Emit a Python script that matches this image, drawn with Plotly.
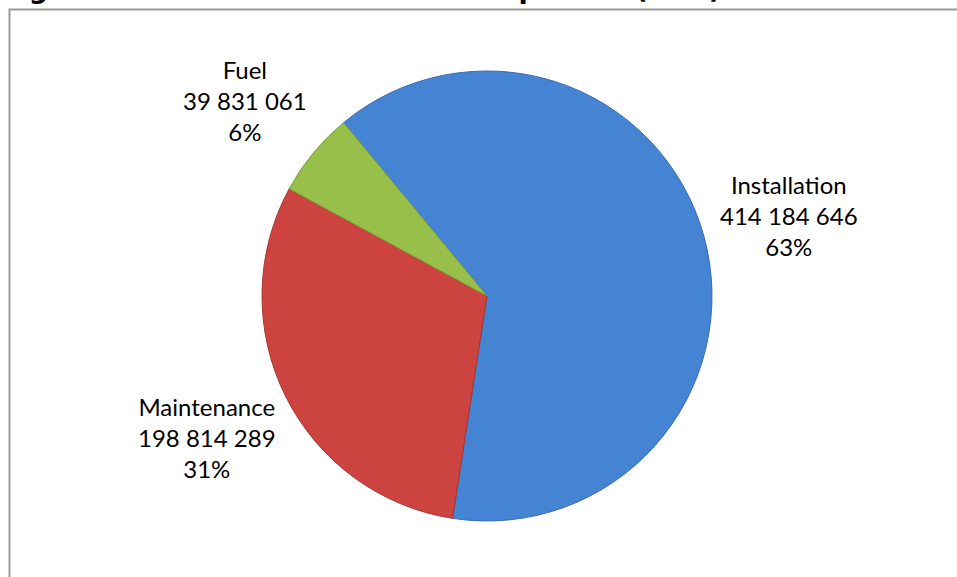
import math
import plotly.graph_objects as go

categories = ["Installation", "Maintenance", "Fuel"]
values = [414184646, 198814289, 39831061]
pct_labels = [63, 31, 6]
colors = ["#4584D3", "#CC4340", "#97BF4A"]
line_colors = ["#3A6DB0", "#A63633", "#7A9C3A"]

W, H = 957, 577
cx, cy, r = 487, 296, 225
rotation = -39.6
label_radius = 1.39 * r

fig = go.Figure(go.Pie(
    labels=categories,
    values=values,
    textinfo="none",
    marker=dict(colors=colors, line=dict(color=line_colors, width=1)),
    sort=False,
    direction="clockwise",
    rotation=rotation,
    hole=0,
    domain=dict(x=[(cx - r) / W, (cx + r) / W], y=[(H - cy - r) / H, (H - cy + r) / H]),
    showlegend=False,
))

# data labels placed along each slice's mid-angle (derived from the values)
total = sum(values)
annotations = []
cum = 0.0
for cat, val, pct in zip(categories, values, pct_labels):
    mid = math.radians(rotation + 360.0 * (cum + val / 2) / total)
    cum += val
    px = cx + label_radius * math.sin(mid)
    py = cy - label_radius * math.cos(mid) + 3
    annotations.append(dict(
        text=f"{cat}<br>{val:,}".replace(",", " ") + f"<br>{pct}%",
        x=px / W, y=(H - py) / H, xref="paper", yref="paper",
        xanchor="center", yanchor="middle", align="center",
        showarrow=False, borderpad=0,
        font=dict(family="Lato", size=24, color="#000000"),
    ))

annotations.append(dict(
    text="<b>Figure 5: Breakdown of costs of Option 1 (EUR)</b>",
    font=dict(family="DejaVu Sans", size=27, color="#000000"),
    x=0, xref="paper", xanchor="left",
    y=1 - 5 / H, yref="paper", yanchor="bottom",
    showarrow=False, borderpad=0,
))

fig.update_layout(
    width=W, height=H,
    margin=dict(l=0, r=0, t=0, b=0),
    paper_bgcolor="white",
    plot_bgcolor="white",
    annotations=annotations,
    shapes=[dict(
        type="rect", xref="paper", yref="paper",
        x0=9.5 / W, x1=1.02, y0=-0.05, y1=(H - 9.5) / H,
        line=dict(color="#9A9A9A", width=2), fillcolor="rgba(0,0,0,0)",
    )],
)

fig.write_html("out.html")
